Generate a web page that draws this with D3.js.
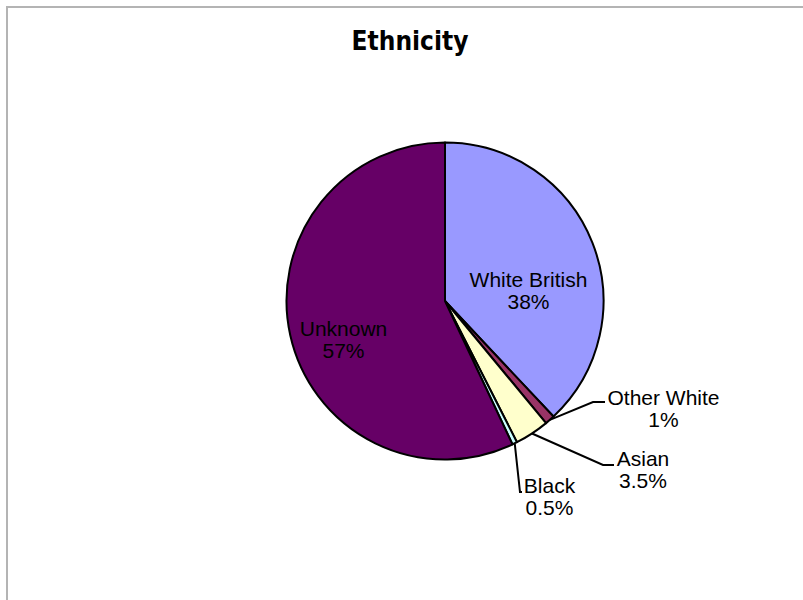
<!DOCTYPE html>
<html>
<head>
<meta charset="utf-8">
<script src="https://cdn.jsdelivr.net/npm/d3@7"></script>
<style>
  html, body { margin: 0; padding: 0; background: #fff; }
  svg { display: block; }
</style>
</head>
<body>
<svg id="chart" width="803" height="600"></svg>
<script>
// ---- data ----
const categories = ["White British", "Other White", "Asian", "Black", "Unknown"];
const values = [38, 1, 3.5, 0.5, 57];
const valueLabels = ["38%", "1%", "3.5%", "0.5%", "57%"];
const colors = ["#9999FF", "#993366", "#FFFFCC", "#CCFFFF", "#660066"];
const title = "Ethnicity";

// ---- layout ----
const W = 803, H = 600;
const cx = 445, cy = 301, R = 158.5;
const labelLayout = [
  { x: 528.5, y: 287, inside: true },
  { x: 663.5, y: 405, elbow: [593, 402], end: 605 },
  { x: 643,   y: 466, elbow: [603, 465], end: 614 },
  { x: 549.5, y: 493, elbow: [520, 492], end: 522 },
  { x: 343.5, y: 336, inside: true }
];

const svg = d3.select("#chart");

svg.append("rect")
  .attr("x", 7).attr("y", 7)
  .attr("width", W + 20).attr("height", H + 20)
  .attr("fill", "#fff")
  .attr("stroke", "#b4b4b4")
  .attr("stroke-width", 2);

svg.append("text")
  .attr("x", 410).attr("y", 50)
  .attr("text-anchor", "middle")
  .style("font-family", "'DejaVu Sans Condensed', 'DejaVu Sans', sans-serif")
  .style("font-stretch", "condensed")
  .style("font-weight", "bold")
  .style("font-size", "26px")
  .attr("fill", "#000")
  .text(title);

const data = categories.map((c, i) => ({ name: c, value: values[i], label: valueLabels[i], color: colors[i], layout: labelLayout[i] }));

const pie = d3.pie().value(d => d.value).sort(null).startAngle(0).endAngle(2 * Math.PI);
const arcs = pie(data);
const arc = d3.arc().innerRadius(0).outerRadius(R);

const g = svg.append("g").attr("transform", `translate(${cx},${cy})`);

g.selectAll("path.slice")
  .data(arcs)
  .join("path")
  .attr("class", "slice")
  .attr("d", arc)
  .attr("fill", d => d.data.color)
  .attr("stroke", "#000")
  .attr("stroke-width", 2)
  .attr("stroke-linejoin", "round");

arcs.forEach(d => {
  const L = d.data.layout;
  if (L.inside) return;
  const mid = (d.startAngle + d.endAngle) / 2;
  const sx = cx + R * Math.sin(mid);
  const sy = cy - R * Math.cos(mid);
  svg.append("polyline")
    .attr("points", `${sx},${sy} ${L.elbow[0]},${L.elbow[1]} ${L.end},${L.elbow[1]}`)
    .attr("fill", "none")
    .attr("stroke", "#000")
    .attr("stroke-width", 2);
});

arcs.forEach(d => {
  const L = d.data.layout;
  const t = svg.append("text")
    .attr("text-anchor", "middle")
    .style("font-family", "'Liberation Sans', Arial, sans-serif")
    .style("font-size", "21px")
    .attr("fill", "#000");
  t.append("tspan").attr("x", L.x).attr("y", L.y).text(d.data.name);
  t.append("tspan").attr("x", L.x).attr("y", L.y + 22).text(d.data.label);
});
</script>
</body>
</html>
